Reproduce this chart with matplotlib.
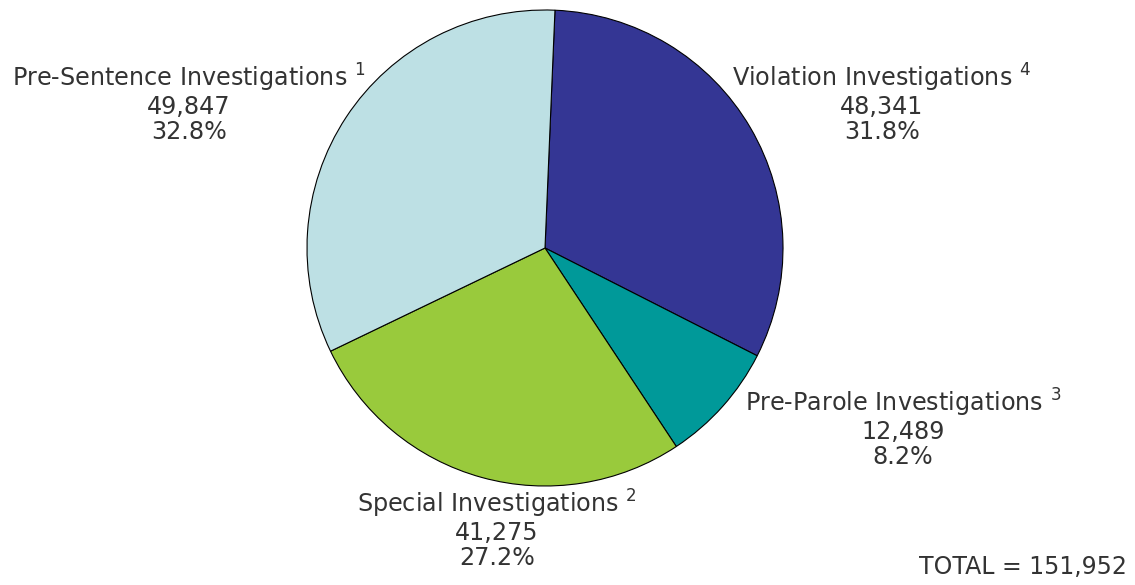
import matplotlib
matplotlib.use("Agg")
import matplotlib.pyplot as plt

categories = ["Violation Investigations", "Pre-Parole Investigations",
              "Special Investigations", "Pre-Sentence Investigations"]
footnotes = ["4", "3", "2", "1"]
counts = [48341, 12489, 41275, 49847]
percents = ["31.8%", "8.2%", "27.2%", "32.8%"]
total_label = "TOTAL = 151,952"
colors = ["#343694", "#009999", "#99CA3C", "#BDE0E4"]

W, H = 1135, 585
plt.rcParams['font.family'] = ['DejaVu Sans']
plt.rcParams['mathtext.fontset'] = 'dejavusans'
fig = plt.figure(figsize=(W / 100, H / 100), dpi=100)

cx, cy, r = 545, 248, 238
ax = fig.add_axes([(cx - r) / W, (H - cy - r) / H, 2 * r / W, 2 * r / H])
ax.pie(counts, colors=colors, startangle=87.6, counterclock=False,
       wedgeprops=dict(edgecolor="black", linewidth=0.8), radius=1.0)
ax.set_xlim(-1, 1)
ax.set_ylim(-1, 1)
ax.set_aspect("equal")
ax.axis("off")

label_pos = [(189, 103), (882, 103), (903, 428), (497, 529)]
label_pos = dict(zip(["Pre-Sentence Investigations", "Violation Investigations",
                      "Pre-Parole Investigations", "Special Investigations"], label_pos))
for name, fn, n, p in zip(categories, footnotes, counts, percents):
    x, y = label_pos[name]
    fig.text(x / W, 1 - y / H, f"{name} $^{{{fn}}}$\n{n:,}\n{p}", ha="center", va="center",
             multialignment="center", fontsize=17.2, color="#333333", linespacing=1.05)

fig.text(1127 / W, 1 - 567 / H, total_label, ha="right", va="center",
         fontsize=17, color="#333333")

fig.savefig("out.png", dpi=100)
